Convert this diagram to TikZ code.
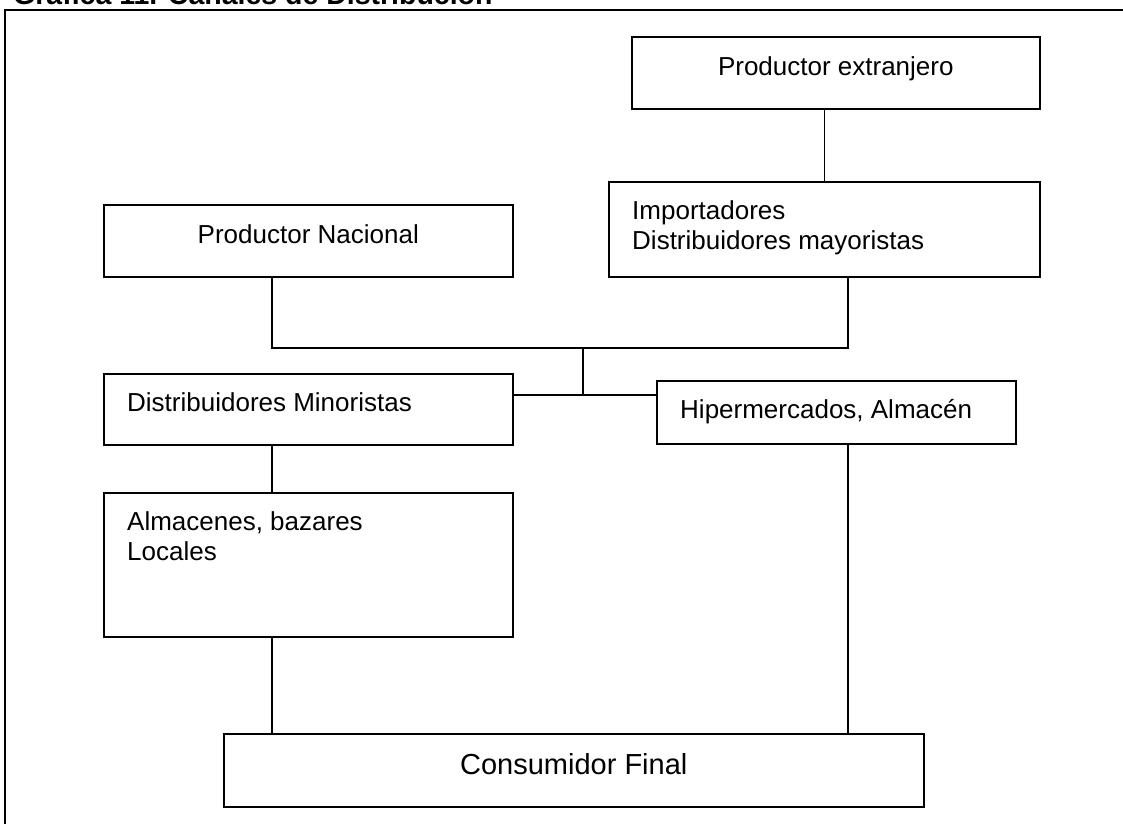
\documentclass[tikz,border=0pt]{standalone}
\usepackage{fontspec}
\setmainfont{Liberation Sans}
\tikzset{
  caja/.style={draw, line width=1.6pt, anchor=north west, inner sep=0pt},
  textoc/.style={anchor=north, inner sep=0pt, yshift=-20pt, font=\fontsize{26}{30}\selectfont},
  textoi/.style={anchor=north west, inner sep=0pt, xshift=24pt, yshift=-19pt, align=left, font=\fontsize{26}{30}\selectfont},
  linea/.style={line width=1.3pt}
}
\begin{document}
\begin{tikzpicture}[x=1pt,y=-1pt]
\useasboundingbox (0,0) rectangle (1123,823);
\draw[line width=1.6pt] (5,850) |- (1150,10);
\node[anchor=base west, inner sep=0pt, font=\fontsize{28.5}{32}\selectfont\bfseries] (titulo) at (13,4) {Gráfica 11. Canales de Distribución};

\node[caja, minimum width=408pt, minimum height=72pt, label={[textoc]north:Productor extranjero}] (pe) at (631,36) {};
\node[caja, minimum width=431pt, minimum height=95pt, label={[textoi]north west:Importadores\\Distribuidores mayoristas}] (imp) at (608,181) {};
\node[caja, minimum width=409pt, minimum height=72pt, label={[textoc]north:Productor Nacional}] (pn) at (103,204) {};
\node[caja, minimum width=409pt, minimum height=71pt, label={[textoi]north west:Distribuidores Minoristas}] (dm) at (103,373) {};
\node[caja, minimum width=359pt, minimum height=63pt, label={[textoi]north west:{Hipermercados, Almacén}}] (hip) at (656,380) {};
\node[caja, minimum width=409pt, minimum height=144pt, label={[textoi]north west:{Almacenes, bazares\\Locales}}] (alm) at (103,492) {};
\node[caja, minimum width=700pt, minimum height=73pt, label={[textoc, font=\fontsize{29}{33}\selectfont]north:Consumidor Final}] (cf) at (223,733) {};

\coordinate (izq) at (272,0);
\coordinate (der) at (848,0);
\coordinate (nudo) at (583,348);
\coordinate (cruce) at (583,395);

\draw[linea] (imp.north) -- (imp.north |- pe.south);
\draw[linea] (pn.south -| izq) |- (nudo) -| (imp.south -| der);
\draw[linea] (nudo) -- (cruce);
\draw[linea] (dm.east |- cruce) -- (hip.west |- cruce);
\draw[linea] (dm.south -| izq) -- (alm.north -| izq);
\draw[linea] (alm.south -| izq) -- (cf.north -| izq);
\draw[linea] (hip.south -| der) -- (cf.north -| der);
\end{tikzpicture}
\end{document}
